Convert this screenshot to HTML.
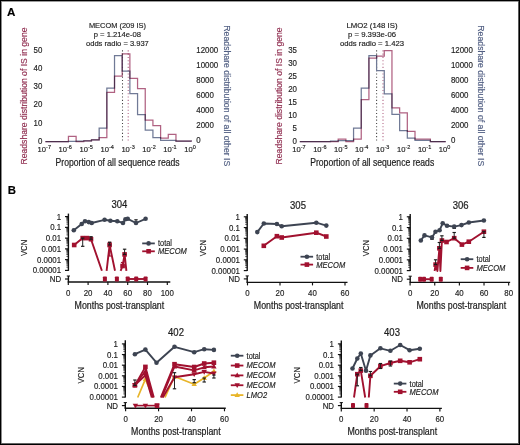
<!DOCTYPE html><html><head><meta charset="utf-8"><style>html,body{margin:0;padding:0;background:#fff;overflow:hidden;}svg{display:block;font-family:"Liberation Sans", sans-serif;will-change:transform;}</style></head><body>
<svg width="520" height="445" viewBox="0 0 520 445">
<rect x="0" y="0" width="520" height="445" fill="#fff"/>
<text x="7.10" y="15.70" font-size="11.60" font-weight="bold" fill="#000" stroke="#000" stroke-width="0.15">A</text>
<text x="7.70" y="193.80" font-size="11.40" font-weight="bold" fill="#000" stroke="#000" stroke-width="0.15">B</text>
<text x="117.40" y="28.40" font-size="7.90" text-anchor="middle" textLength="57.00" lengthAdjust="spacingAndGlyphs" fill="#1e1e1e" stroke="#1e1e1e" stroke-width="0.16">MECOM (209 IS)</text>
<text x="117.40" y="37.35" font-size="7.90" text-anchor="middle" textLength="47.40" lengthAdjust="spacingAndGlyphs" fill="#1e1e1e" stroke="#1e1e1e" stroke-width="0.16">p = 1.214e-08</text>
<text x="117.40" y="46.30" font-size="7.90" text-anchor="middle" textLength="62.80" lengthAdjust="spacingAndGlyphs" fill="#1e1e1e" stroke="#1e1e1e" stroke-width="0.16">odds radio = 3.937</text>
<line x1="122.50" y1="50.3" x2="122.50" y2="141.5" stroke="#444" stroke-width="1.05" stroke-dasharray="1.1 2.2"/>
<line x1="128.20" y1="50.3" x2="128.20" y2="141.5" stroke="#b06282" stroke-width="1.05" stroke-dasharray="1.1 2.2"/>
<path d="M45.40 141.50 L45.40 141.50 L53.08 141.50 L53.08 141.50 L60.76 141.50 L60.76 141.50 L68.44 141.50 L68.44 141.30 L76.12 141.30 L76.12 141.20 L83.80 141.20 L83.80 140.80 L91.48 140.80 L91.48 139.80 L99.16 139.80 L99.16 128.00 L106.84 128.00 L106.84 88.00 L114.52 88.00 L114.52 55.70 L122.20 55.70 L122.20 71.00 L129.88 71.00 L129.88 93.50 L137.56 93.50 L137.56 114.70 L145.24 114.70 L145.24 130.00 L152.92 130.00 L152.92 137.50 L160.60 137.50 L160.60 140.30 L168.28 140.30 L168.28 140.30 L175.96 140.30 L175.96 141.00 L183.64 141.00 L183.64 141.00 L191.32 141.00 L191.32 141.50" fill="none" stroke="#707a96" stroke-width="1.25" stroke-linejoin="miter"/>
<path d="M45.40 141.50 L45.40 141.50 L53.08 141.50 L53.08 141.50 L60.76 141.50 L60.76 141.50 L68.44 141.50 L68.44 136.40 L76.12 136.40 L76.12 141.50 L83.80 141.50 L83.80 140.80 L91.48 140.80 L91.48 139.80 L99.16 139.80 L99.16 137.60 L106.84 137.60 L106.84 92.40 L114.52 92.40 L114.52 76.00 L122.20 76.00 L122.20 53.80 L129.88 53.80 L129.88 78.30 L137.56 78.30 L137.56 88.60 L145.24 88.60 L145.24 120.00 L152.92 120.00 L152.92 125.60 L160.60 125.60 L160.60 138.00 L168.28 138.00 L168.28 134.40 L175.96 134.40 L175.96 141.00 L183.64 141.00 L183.64 141.00 L191.32 141.00 L191.32 141.50" fill="none" stroke="#b06282" stroke-width="1.25" stroke-linejoin="miter" style="mix-blend-mode:multiply"/>
<text transform="translate(42.40,143.95) scale(0.940,1)" x="0" y="0" font-size="8.40" text-anchor="end" fill="#1e1e1e" stroke="#1e1e1e" stroke-width="0.16">0</text>
<text transform="translate(42.40,125.65) scale(0.940,1)" x="0" y="0" font-size="8.40" text-anchor="end" fill="#1e1e1e" stroke="#1e1e1e" stroke-width="0.16">10</text>
<text transform="translate(42.40,107.35) scale(0.940,1)" x="0" y="0" font-size="8.40" text-anchor="end" fill="#1e1e1e" stroke="#1e1e1e" stroke-width="0.16">20</text>
<text transform="translate(42.40,89.05) scale(0.940,1)" x="0" y="0" font-size="8.40" text-anchor="end" fill="#1e1e1e" stroke="#1e1e1e" stroke-width="0.16">30</text>
<text transform="translate(42.40,70.75) scale(0.940,1)" x="0" y="0" font-size="8.40" text-anchor="end" fill="#1e1e1e" stroke="#1e1e1e" stroke-width="0.16">40</text>
<text transform="translate(42.40,52.55) scale(0.940,1)" x="0" y="0" font-size="8.40" text-anchor="end" fill="#1e1e1e" stroke="#1e1e1e" stroke-width="0.16">50</text>
<text transform="translate(196.30,143.05) scale(0.940,1)" x="0" y="0" font-size="8.40" fill="#1e1e1e" stroke="#1e1e1e" stroke-width="0.16">0</text>
<text transform="translate(196.30,128.00) scale(0.940,1)" x="0" y="0" font-size="8.40" fill="#1e1e1e" stroke="#1e1e1e" stroke-width="0.16">2000</text>
<text transform="translate(196.30,112.95) scale(0.940,1)" x="0" y="0" font-size="8.40" fill="#1e1e1e" stroke="#1e1e1e" stroke-width="0.16">4000</text>
<text transform="translate(196.30,97.90) scale(0.940,1)" x="0" y="0" font-size="8.40" fill="#1e1e1e" stroke="#1e1e1e" stroke-width="0.16">6000</text>
<text transform="translate(196.30,82.85) scale(0.940,1)" x="0" y="0" font-size="8.40" fill="#1e1e1e" stroke="#1e1e1e" stroke-width="0.16">8000</text>
<text transform="translate(196.30,67.80) scale(0.940,1)" x="0" y="0" font-size="8.40" fill="#1e1e1e" stroke="#1e1e1e" stroke-width="0.16">10000</text>
<text transform="translate(196.30,52.75) scale(0.940,1)" x="0" y="0" font-size="8.40" fill="#1e1e1e" stroke="#1e1e1e" stroke-width="0.16">12000</text>
<text x="37.60" y="152.3" font-size="7.6" fill="#1e1e1e" stroke="#1e1e1e" stroke-width="0.16">10<tspan dy="-3.1" font-size="5.5">-7</tspan></text>
<text x="58.55" y="152.3" font-size="7.6" fill="#1e1e1e" stroke="#1e1e1e" stroke-width="0.16">10<tspan dy="-3.1" font-size="5.5">-6</tspan></text>
<text x="79.50" y="152.3" font-size="7.6" fill="#1e1e1e" stroke="#1e1e1e" stroke-width="0.16">10<tspan dy="-3.1" font-size="5.5">-5</tspan></text>
<text x="100.45" y="152.3" font-size="7.6" fill="#1e1e1e" stroke="#1e1e1e" stroke-width="0.16">10<tspan dy="-3.1" font-size="5.5">-4</tspan></text>
<text x="121.40" y="152.3" font-size="7.6" fill="#1e1e1e" stroke="#1e1e1e" stroke-width="0.16">10<tspan dy="-3.1" font-size="5.5">-3</tspan></text>
<text x="142.35" y="152.3" font-size="7.6" fill="#1e1e1e" stroke="#1e1e1e" stroke-width="0.16">10<tspan dy="-3.1" font-size="5.5">-2</tspan></text>
<text x="163.30" y="152.3" font-size="7.6" fill="#1e1e1e" stroke="#1e1e1e" stroke-width="0.16">10<tspan dy="-3.1" font-size="5.5">-1</tspan></text>
<text x="184.25" y="152.3" font-size="7.6" fill="#1e1e1e" stroke="#1e1e1e" stroke-width="0.16">10<tspan dy="-3.1" font-size="5.5">0</tspan></text>
<text x="55.60" y="165.50" font-size="10.20" textLength="124.00" lengthAdjust="spacingAndGlyphs" fill="#1e1e1e" stroke="#1e1e1e" stroke-width="0.20">Proportion of all sequence reads</text>
<text x="372.00" y="28.40" font-size="7.90" text-anchor="middle" textLength="51.00" lengthAdjust="spacingAndGlyphs" fill="#1e1e1e" stroke="#1e1e1e" stroke-width="0.16">LMO2 (148 IS)</text>
<text x="372.00" y="37.35" font-size="7.90" text-anchor="middle" textLength="48.00" lengthAdjust="spacingAndGlyphs" fill="#1e1e1e" stroke="#1e1e1e" stroke-width="0.16">p = 9.393e-06</text>
<text x="372.00" y="46.30" font-size="7.90" text-anchor="middle" textLength="64.00" lengthAdjust="spacingAndGlyphs" fill="#1e1e1e" stroke="#1e1e1e" stroke-width="0.16">odds radio = 1.423</text>
<line x1="376.60" y1="50.3" x2="376.60" y2="141.5" stroke="#444" stroke-width="1.05" stroke-dasharray="1.1 2.2"/>
<line x1="383.00" y1="50.3" x2="383.00" y2="141.5" stroke="#b06282" stroke-width="1.05" stroke-dasharray="1.1 2.2"/>
<path d="M299.80 141.50 L299.80 141.50 L307.48 141.50 L307.48 141.50 L315.16 141.50 L315.16 141.50 L322.84 141.50 L322.84 141.50 L330.52 141.50 L330.52 141.20 L338.20 141.20 L338.20 140.50 L345.88 140.50 L345.88 140.50 L353.56 140.50 L353.56 128.20 L361.24 128.20 L361.24 88.00 L368.92 88.00 L368.92 55.50 L376.60 55.50 L376.60 70.70 L384.28 70.70 L384.28 93.90 L391.96 93.90 L391.96 114.40 L399.64 114.40 L399.64 130.60 L407.32 130.60 L407.32 138.00 L415.00 138.00 L415.00 140.30 L422.68 140.30 L422.68 140.30 L430.36 140.30 L430.36 141.50 L438.04 141.50 L438.04 141.50 L445.72 141.50 L445.72 141.50" fill="none" stroke="#707a96" stroke-width="1.25" stroke-linejoin="miter"/>
<path d="M299.80 141.50 L299.80 141.50 L307.48 141.50 L307.48 141.50 L315.16 141.50 L315.16 141.50 L322.84 141.50 L322.84 141.50 L330.52 141.50 L330.52 141.50 L338.20 141.50 L338.20 139.20 L345.88 139.20 L345.88 141.50 L353.56 141.50 L353.56 139.00 L361.24 139.00 L361.24 99.70 L368.92 99.70 L368.92 58.20 L376.60 58.20 L376.60 56.00 L384.28 56.00 L384.28 50.50 L391.96 50.50 L391.96 107.80 L399.64 107.80 L399.64 112.90 L407.32 112.90 L407.32 131.30 L415.00 131.30 L415.00 139.00 L422.68 139.00 L422.68 139.00 L430.36 139.00 L430.36 141.50 L438.04 141.50 L438.04 141.50 L445.72 141.50 L445.72 141.50" fill="none" stroke="#b06282" stroke-width="1.25" stroke-linejoin="miter" style="mix-blend-mode:multiply"/>
<text transform="translate(297.00,143.95) scale(0.940,1)" x="0" y="0" font-size="8.40" text-anchor="end" fill="#1e1e1e" stroke="#1e1e1e" stroke-width="0.16">0</text>
<text transform="translate(297.00,130.95) scale(0.940,1)" x="0" y="0" font-size="8.40" text-anchor="end" fill="#1e1e1e" stroke="#1e1e1e" stroke-width="0.16">5</text>
<text transform="translate(297.00,117.95) scale(0.940,1)" x="0" y="0" font-size="8.40" text-anchor="end" fill="#1e1e1e" stroke="#1e1e1e" stroke-width="0.16">10</text>
<text transform="translate(297.00,104.95) scale(0.940,1)" x="0" y="0" font-size="8.40" text-anchor="end" fill="#1e1e1e" stroke="#1e1e1e" stroke-width="0.16">15</text>
<text transform="translate(297.00,91.95) scale(0.940,1)" x="0" y="0" font-size="8.40" text-anchor="end" fill="#1e1e1e" stroke="#1e1e1e" stroke-width="0.16">20</text>
<text transform="translate(297.00,78.95) scale(0.940,1)" x="0" y="0" font-size="8.40" text-anchor="end" fill="#1e1e1e" stroke="#1e1e1e" stroke-width="0.16">25</text>
<text transform="translate(297.00,65.95) scale(0.940,1)" x="0" y="0" font-size="8.40" text-anchor="end" fill="#1e1e1e" stroke="#1e1e1e" stroke-width="0.16">30</text>
<text transform="translate(297.00,52.95) scale(0.940,1)" x="0" y="0" font-size="8.40" text-anchor="end" fill="#1e1e1e" stroke="#1e1e1e" stroke-width="0.16">35</text>
<text transform="translate(450.90,143.05) scale(0.940,1)" x="0" y="0" font-size="8.40" fill="#1e1e1e" stroke="#1e1e1e" stroke-width="0.16">0</text>
<text transform="translate(450.90,128.00) scale(0.940,1)" x="0" y="0" font-size="8.40" fill="#1e1e1e" stroke="#1e1e1e" stroke-width="0.16">2000</text>
<text transform="translate(450.90,112.95) scale(0.940,1)" x="0" y="0" font-size="8.40" fill="#1e1e1e" stroke="#1e1e1e" stroke-width="0.16">4000</text>
<text transform="translate(450.90,97.90) scale(0.940,1)" x="0" y="0" font-size="8.40" fill="#1e1e1e" stroke="#1e1e1e" stroke-width="0.16">6000</text>
<text transform="translate(450.90,82.85) scale(0.940,1)" x="0" y="0" font-size="8.40" fill="#1e1e1e" stroke="#1e1e1e" stroke-width="0.16">8000</text>
<text transform="translate(450.90,67.80) scale(0.940,1)" x="0" y="0" font-size="8.40" fill="#1e1e1e" stroke="#1e1e1e" stroke-width="0.16">10000</text>
<text transform="translate(450.90,52.75) scale(0.940,1)" x="0" y="0" font-size="8.40" fill="#1e1e1e" stroke="#1e1e1e" stroke-width="0.16">12000</text>
<text x="292.20" y="152.3" font-size="7.6" fill="#1e1e1e" stroke="#1e1e1e" stroke-width="0.16">10<tspan dy="-3.1" font-size="5.5">-7</tspan></text>
<text x="313.15" y="152.3" font-size="7.6" fill="#1e1e1e" stroke="#1e1e1e" stroke-width="0.16">10<tspan dy="-3.1" font-size="5.5">-6</tspan></text>
<text x="334.10" y="152.3" font-size="7.6" fill="#1e1e1e" stroke="#1e1e1e" stroke-width="0.16">10<tspan dy="-3.1" font-size="5.5">-5</tspan></text>
<text x="355.05" y="152.3" font-size="7.6" fill="#1e1e1e" stroke="#1e1e1e" stroke-width="0.16">10<tspan dy="-3.1" font-size="5.5">-4</tspan></text>
<text x="376.00" y="152.3" font-size="7.6" fill="#1e1e1e" stroke="#1e1e1e" stroke-width="0.16">10<tspan dy="-3.1" font-size="5.5">-3</tspan></text>
<text x="396.95" y="152.3" font-size="7.6" fill="#1e1e1e" stroke="#1e1e1e" stroke-width="0.16">10<tspan dy="-3.1" font-size="5.5">-2</tspan></text>
<text x="417.90" y="152.3" font-size="7.6" fill="#1e1e1e" stroke="#1e1e1e" stroke-width="0.16">10<tspan dy="-3.1" font-size="5.5">-1</tspan></text>
<text x="438.85" y="152.3" font-size="7.6" fill="#1e1e1e" stroke="#1e1e1e" stroke-width="0.16">10<tspan dy="-3.1" font-size="5.5">0</tspan></text>
<text x="310.20" y="165.50" font-size="10.20" textLength="124.00" lengthAdjust="spacingAndGlyphs" fill="#1e1e1e" stroke="#1e1e1e" stroke-width="0.20">Proportion of all sequence reads</text>
<text transform="translate(26.90,164.50) rotate(-90)" x="0" y="0" font-size="9.10" textLength="137.00" lengthAdjust="spacingAndGlyphs" fill="#902e50" stroke="#902e50" stroke-width="0.16">Readshare distribution of IS in gene</text>
<text transform="translate(281.90,164.40) rotate(-90)" x="0" y="0" font-size="9.10" textLength="137.00" lengthAdjust="spacingAndGlyphs" fill="#902e50" stroke="#902e50" stroke-width="0.16">Readshare distribution of IS in gene</text>
<text transform="translate(224.20,25.30) rotate(90)" x="0" y="0" font-size="9.10" textLength="141.00" lengthAdjust="spacingAndGlyphs" fill="#505e82" stroke="#505e82" stroke-width="0.16">Readshare distribution of all other IS</text>
<text transform="translate(478.00,25.30) rotate(90)" x="0" y="0" font-size="9.10" textLength="141.00" lengthAdjust="spacingAndGlyphs" fill="#505e82" stroke="#505e82" stroke-width="0.16">Readshare distribution of all other IS</text>
<text x="119.40" y="208.20" font-size="10.60" text-anchor="middle" textLength="15.90" lengthAdjust="spacingAndGlyphs" fill="#1e1e1e" stroke="#1e1e1e" stroke-width="0.22">304</text>
<line x1="68.40" y1="213.60" x2="68.40" y2="270.90" stroke="#111" stroke-width="1.4"/>
<line x1="65.00" y1="216.60" x2="68.40" y2="216.60" stroke="#111" stroke-width="1.15"/>
<text transform="translate(61.10,219.60) scale(0.950,1)" x="0" y="0" font-size="8.30" text-anchor="end" fill="#1e1e1e" stroke="#1e1e1e" stroke-width="0.16">1</text>
<line x1="66.40" y1="224.12" x2="68.40" y2="224.12" stroke="#111" stroke-width="0.7"/>
<line x1="66.40" y1="222.23" x2="68.40" y2="222.23" stroke="#111" stroke-width="0.7"/>
<line x1="66.40" y1="220.88" x2="68.40" y2="220.88" stroke="#111" stroke-width="0.7"/>
<line x1="66.40" y1="219.84" x2="68.40" y2="219.84" stroke="#111" stroke-width="0.7"/>
<line x1="66.40" y1="218.99" x2="68.40" y2="218.99" stroke="#111" stroke-width="0.7"/>
<line x1="66.40" y1="218.27" x2="68.40" y2="218.27" stroke="#111" stroke-width="0.7"/>
<line x1="66.40" y1="217.64" x2="68.40" y2="217.64" stroke="#111" stroke-width="0.7"/>
<line x1="66.40" y1="217.09" x2="68.40" y2="217.09" stroke="#111" stroke-width="0.7"/>
<line x1="65.00" y1="227.36" x2="68.40" y2="227.36" stroke="#111" stroke-width="1.15"/>
<text transform="translate(61.10,230.36) scale(0.950,1)" x="0" y="0" font-size="8.30" text-anchor="end" fill="#1e1e1e" stroke="#1e1e1e" stroke-width="0.16">0.1</text>
<line x1="66.40" y1="234.88" x2="68.40" y2="234.88" stroke="#111" stroke-width="0.7"/>
<line x1="66.40" y1="232.99" x2="68.40" y2="232.99" stroke="#111" stroke-width="0.7"/>
<line x1="66.40" y1="231.64" x2="68.40" y2="231.64" stroke="#111" stroke-width="0.7"/>
<line x1="66.40" y1="230.60" x2="68.40" y2="230.60" stroke="#111" stroke-width="0.7"/>
<line x1="66.40" y1="229.75" x2="68.40" y2="229.75" stroke="#111" stroke-width="0.7"/>
<line x1="66.40" y1="229.03" x2="68.40" y2="229.03" stroke="#111" stroke-width="0.7"/>
<line x1="66.40" y1="228.40" x2="68.40" y2="228.40" stroke="#111" stroke-width="0.7"/>
<line x1="66.40" y1="227.85" x2="68.40" y2="227.85" stroke="#111" stroke-width="0.7"/>
<line x1="65.00" y1="238.12" x2="68.40" y2="238.12" stroke="#111" stroke-width="1.15"/>
<text transform="translate(61.10,241.12) scale(0.950,1)" x="0" y="0" font-size="8.30" text-anchor="end" fill="#1e1e1e" stroke="#1e1e1e" stroke-width="0.16">0.01</text>
<line x1="66.40" y1="245.64" x2="68.40" y2="245.64" stroke="#111" stroke-width="0.7"/>
<line x1="66.40" y1="243.75" x2="68.40" y2="243.75" stroke="#111" stroke-width="0.7"/>
<line x1="66.40" y1="242.40" x2="68.40" y2="242.40" stroke="#111" stroke-width="0.7"/>
<line x1="66.40" y1="241.36" x2="68.40" y2="241.36" stroke="#111" stroke-width="0.7"/>
<line x1="66.40" y1="240.51" x2="68.40" y2="240.51" stroke="#111" stroke-width="0.7"/>
<line x1="66.40" y1="239.79" x2="68.40" y2="239.79" stroke="#111" stroke-width="0.7"/>
<line x1="66.40" y1="239.16" x2="68.40" y2="239.16" stroke="#111" stroke-width="0.7"/>
<line x1="66.40" y1="238.61" x2="68.40" y2="238.61" stroke="#111" stroke-width="0.7"/>
<line x1="65.00" y1="248.88" x2="68.40" y2="248.88" stroke="#111" stroke-width="1.15"/>
<text transform="translate(61.10,251.88) scale(0.950,1)" x="0" y="0" font-size="8.30" text-anchor="end" fill="#1e1e1e" stroke="#1e1e1e" stroke-width="0.16">0.001</text>
<line x1="66.40" y1="256.40" x2="68.40" y2="256.40" stroke="#111" stroke-width="0.7"/>
<line x1="66.40" y1="254.51" x2="68.40" y2="254.51" stroke="#111" stroke-width="0.7"/>
<line x1="66.40" y1="253.16" x2="68.40" y2="253.16" stroke="#111" stroke-width="0.7"/>
<line x1="66.40" y1="252.12" x2="68.40" y2="252.12" stroke="#111" stroke-width="0.7"/>
<line x1="66.40" y1="251.27" x2="68.40" y2="251.27" stroke="#111" stroke-width="0.7"/>
<line x1="66.40" y1="250.55" x2="68.40" y2="250.55" stroke="#111" stroke-width="0.7"/>
<line x1="66.40" y1="249.92" x2="68.40" y2="249.92" stroke="#111" stroke-width="0.7"/>
<line x1="66.40" y1="249.37" x2="68.40" y2="249.37" stroke="#111" stroke-width="0.7"/>
<line x1="65.00" y1="259.64" x2="68.40" y2="259.64" stroke="#111" stroke-width="1.15"/>
<text transform="translate(61.10,262.64) scale(0.950,1)" x="0" y="0" font-size="8.30" text-anchor="end" fill="#1e1e1e" stroke="#1e1e1e" stroke-width="0.16">0.0001</text>
<line x1="66.40" y1="267.16" x2="68.40" y2="267.16" stroke="#111" stroke-width="0.7"/>
<line x1="66.40" y1="265.27" x2="68.40" y2="265.27" stroke="#111" stroke-width="0.7"/>
<line x1="66.40" y1="263.92" x2="68.40" y2="263.92" stroke="#111" stroke-width="0.7"/>
<line x1="66.40" y1="262.88" x2="68.40" y2="262.88" stroke="#111" stroke-width="0.7"/>
<line x1="66.40" y1="262.03" x2="68.40" y2="262.03" stroke="#111" stroke-width="0.7"/>
<line x1="66.40" y1="261.31" x2="68.40" y2="261.31" stroke="#111" stroke-width="0.7"/>
<line x1="66.40" y1="260.68" x2="68.40" y2="260.68" stroke="#111" stroke-width="0.7"/>
<line x1="66.40" y1="260.13" x2="68.40" y2="260.13" stroke="#111" stroke-width="0.7"/>
<line x1="65.00" y1="270.40" x2="68.40" y2="270.40" stroke="#111" stroke-width="1.15"/>
<text transform="translate(61.10,273.40) scale(0.950,1)" x="0" y="0" font-size="8.30" text-anchor="end" fill="#1e1e1e" stroke="#1e1e1e" stroke-width="0.16">0.00001</text>
<line x1="68.40" y1="276.00" x2="68.40" y2="282.00" stroke="#111" stroke-width="1.4"/>
<line x1="65.00" y1="279.00" x2="68.40" y2="279.00" stroke="#111" stroke-width="1.15"/>
<line x1="66.80" y1="276.00" x2="70.00" y2="276.00" stroke="#111" stroke-width="1.0"/>
<text transform="translate(61.10,282.00) scale(0.950,1)" x="0" y="0" font-size="8.30" text-anchor="end" fill="#1e1e1e" stroke="#1e1e1e" stroke-width="0.16">ND</text>
<line x1="67.70" y1="282.00" x2="170.30" y2="282.00" stroke="#111" stroke-width="1.4"/>
<line x1="68.30" y1="282.00" x2="68.30" y2="285.00" stroke="#111" stroke-width="1.15"/>
<text transform="translate(68.30,296.00) scale(0.950,1)" x="0" y="0" font-size="8.30" text-anchor="middle" fill="#1e1e1e" stroke="#1e1e1e" stroke-width="0.16">0</text>
<line x1="88.10" y1="282.00" x2="88.10" y2="285.00" stroke="#111" stroke-width="1.15"/>
<text transform="translate(88.10,296.00) scale(0.950,1)" x="0" y="0" font-size="8.30" text-anchor="middle" fill="#1e1e1e" stroke="#1e1e1e" stroke-width="0.16">20</text>
<line x1="107.90" y1="282.00" x2="107.90" y2="285.00" stroke="#111" stroke-width="1.15"/>
<text transform="translate(107.90,296.00) scale(0.950,1)" x="0" y="0" font-size="8.30" text-anchor="middle" fill="#1e1e1e" stroke="#1e1e1e" stroke-width="0.16">40</text>
<line x1="127.70" y1="282.00" x2="127.70" y2="285.00" stroke="#111" stroke-width="1.15"/>
<text transform="translate(127.70,296.00) scale(0.950,1)" x="0" y="0" font-size="8.30" text-anchor="middle" fill="#1e1e1e" stroke="#1e1e1e" stroke-width="0.16">60</text>
<line x1="147.50" y1="282.00" x2="147.50" y2="285.00" stroke="#111" stroke-width="1.15"/>
<text transform="translate(147.50,296.00) scale(0.950,1)" x="0" y="0" font-size="8.30" text-anchor="middle" fill="#1e1e1e" stroke="#1e1e1e" stroke-width="0.16">80</text>
<line x1="167.30" y1="282.00" x2="167.30" y2="285.00" stroke="#111" stroke-width="1.15"/>
<text transform="translate(167.30,296.00) scale(0.950,1)" x="0" y="0" font-size="8.30" text-anchor="middle" fill="#1e1e1e" stroke="#1e1e1e" stroke-width="0.16">100</text>
<text x="119.40" y="308.70" font-size="10.20" text-anchor="middle" textLength="89.60" lengthAdjust="spacingAndGlyphs" fill="#1e1e1e" stroke="#1e1e1e" stroke-width="0.22">Months post-transplant</text>
<text transform="translate(27.10,247.90) rotate(-90)" x="0" y="0" font-size="8.60" text-anchor="middle" textLength="16.40" lengthAdjust="spacingAndGlyphs" fill="#1e1e1e" stroke="#1e1e1e" stroke-width="0.16">VCN</text>
<text x="298.00" y="208.80" font-size="10.60" text-anchor="middle" textLength="15.90" lengthAdjust="spacingAndGlyphs" fill="#1e1e1e" stroke="#1e1e1e" stroke-width="0.22">305</text>
<line x1="247.20" y1="214.00" x2="247.20" y2="271.10" stroke="#111" stroke-width="1.4"/>
<line x1="243.80" y1="216.80" x2="247.20" y2="216.80" stroke="#111" stroke-width="1.15"/>
<text transform="translate(239.90,219.80) scale(0.950,1)" x="0" y="0" font-size="8.30" text-anchor="end" fill="#1e1e1e" stroke="#1e1e1e" stroke-width="0.16">1</text>
<line x1="245.20" y1="224.32" x2="247.20" y2="224.32" stroke="#111" stroke-width="0.7"/>
<line x1="245.20" y1="222.43" x2="247.20" y2="222.43" stroke="#111" stroke-width="0.7"/>
<line x1="245.20" y1="221.08" x2="247.20" y2="221.08" stroke="#111" stroke-width="0.7"/>
<line x1="245.20" y1="220.04" x2="247.20" y2="220.04" stroke="#111" stroke-width="0.7"/>
<line x1="245.20" y1="219.19" x2="247.20" y2="219.19" stroke="#111" stroke-width="0.7"/>
<line x1="245.20" y1="218.47" x2="247.20" y2="218.47" stroke="#111" stroke-width="0.7"/>
<line x1="245.20" y1="217.84" x2="247.20" y2="217.84" stroke="#111" stroke-width="0.7"/>
<line x1="245.20" y1="217.29" x2="247.20" y2="217.29" stroke="#111" stroke-width="0.7"/>
<line x1="243.80" y1="227.56" x2="247.20" y2="227.56" stroke="#111" stroke-width="1.15"/>
<text transform="translate(239.90,230.56) scale(0.950,1)" x="0" y="0" font-size="8.30" text-anchor="end" fill="#1e1e1e" stroke="#1e1e1e" stroke-width="0.16">0.1</text>
<line x1="245.20" y1="235.08" x2="247.20" y2="235.08" stroke="#111" stroke-width="0.7"/>
<line x1="245.20" y1="233.19" x2="247.20" y2="233.19" stroke="#111" stroke-width="0.7"/>
<line x1="245.20" y1="231.84" x2="247.20" y2="231.84" stroke="#111" stroke-width="0.7"/>
<line x1="245.20" y1="230.80" x2="247.20" y2="230.80" stroke="#111" stroke-width="0.7"/>
<line x1="245.20" y1="229.95" x2="247.20" y2="229.95" stroke="#111" stroke-width="0.7"/>
<line x1="245.20" y1="229.23" x2="247.20" y2="229.23" stroke="#111" stroke-width="0.7"/>
<line x1="245.20" y1="228.60" x2="247.20" y2="228.60" stroke="#111" stroke-width="0.7"/>
<line x1="245.20" y1="228.05" x2="247.20" y2="228.05" stroke="#111" stroke-width="0.7"/>
<line x1="243.80" y1="238.32" x2="247.20" y2="238.32" stroke="#111" stroke-width="1.15"/>
<text transform="translate(239.90,241.32) scale(0.950,1)" x="0" y="0" font-size="8.30" text-anchor="end" fill="#1e1e1e" stroke="#1e1e1e" stroke-width="0.16">0.01</text>
<line x1="245.20" y1="245.84" x2="247.20" y2="245.84" stroke="#111" stroke-width="0.7"/>
<line x1="245.20" y1="243.95" x2="247.20" y2="243.95" stroke="#111" stroke-width="0.7"/>
<line x1="245.20" y1="242.60" x2="247.20" y2="242.60" stroke="#111" stroke-width="0.7"/>
<line x1="245.20" y1="241.56" x2="247.20" y2="241.56" stroke="#111" stroke-width="0.7"/>
<line x1="245.20" y1="240.71" x2="247.20" y2="240.71" stroke="#111" stroke-width="0.7"/>
<line x1="245.20" y1="239.99" x2="247.20" y2="239.99" stroke="#111" stroke-width="0.7"/>
<line x1="245.20" y1="239.36" x2="247.20" y2="239.36" stroke="#111" stroke-width="0.7"/>
<line x1="245.20" y1="238.81" x2="247.20" y2="238.81" stroke="#111" stroke-width="0.7"/>
<line x1="243.80" y1="249.08" x2="247.20" y2="249.08" stroke="#111" stroke-width="1.15"/>
<text transform="translate(239.90,252.08) scale(0.950,1)" x="0" y="0" font-size="8.30" text-anchor="end" fill="#1e1e1e" stroke="#1e1e1e" stroke-width="0.16">0.001</text>
<line x1="245.20" y1="256.60" x2="247.20" y2="256.60" stroke="#111" stroke-width="0.7"/>
<line x1="245.20" y1="254.71" x2="247.20" y2="254.71" stroke="#111" stroke-width="0.7"/>
<line x1="245.20" y1="253.36" x2="247.20" y2="253.36" stroke="#111" stroke-width="0.7"/>
<line x1="245.20" y1="252.32" x2="247.20" y2="252.32" stroke="#111" stroke-width="0.7"/>
<line x1="245.20" y1="251.47" x2="247.20" y2="251.47" stroke="#111" stroke-width="0.7"/>
<line x1="245.20" y1="250.75" x2="247.20" y2="250.75" stroke="#111" stroke-width="0.7"/>
<line x1="245.20" y1="250.12" x2="247.20" y2="250.12" stroke="#111" stroke-width="0.7"/>
<line x1="245.20" y1="249.57" x2="247.20" y2="249.57" stroke="#111" stroke-width="0.7"/>
<line x1="243.80" y1="259.84" x2="247.20" y2="259.84" stroke="#111" stroke-width="1.15"/>
<text transform="translate(239.90,262.84) scale(0.950,1)" x="0" y="0" font-size="8.30" text-anchor="end" fill="#1e1e1e" stroke="#1e1e1e" stroke-width="0.16">0.0001</text>
<line x1="245.20" y1="267.36" x2="247.20" y2="267.36" stroke="#111" stroke-width="0.7"/>
<line x1="245.20" y1="265.47" x2="247.20" y2="265.47" stroke="#111" stroke-width="0.7"/>
<line x1="245.20" y1="264.12" x2="247.20" y2="264.12" stroke="#111" stroke-width="0.7"/>
<line x1="245.20" y1="263.08" x2="247.20" y2="263.08" stroke="#111" stroke-width="0.7"/>
<line x1="245.20" y1="262.23" x2="247.20" y2="262.23" stroke="#111" stroke-width="0.7"/>
<line x1="245.20" y1="261.51" x2="247.20" y2="261.51" stroke="#111" stroke-width="0.7"/>
<line x1="245.20" y1="260.88" x2="247.20" y2="260.88" stroke="#111" stroke-width="0.7"/>
<line x1="245.20" y1="260.33" x2="247.20" y2="260.33" stroke="#111" stroke-width="0.7"/>
<line x1="243.80" y1="270.60" x2="247.20" y2="270.60" stroke="#111" stroke-width="1.15"/>
<text transform="translate(239.90,273.60) scale(0.950,1)" x="0" y="0" font-size="8.30" text-anchor="end" fill="#1e1e1e" stroke="#1e1e1e" stroke-width="0.16">0.00001</text>
<line x1="247.20" y1="275.90" x2="247.20" y2="282.40" stroke="#111" stroke-width="1.4"/>
<line x1="243.80" y1="278.90" x2="247.20" y2="278.90" stroke="#111" stroke-width="1.15"/>
<line x1="245.60" y1="275.90" x2="248.80" y2="275.90" stroke="#111" stroke-width="1.0"/>
<text transform="translate(239.90,281.90) scale(0.950,1)" x="0" y="0" font-size="8.30" text-anchor="end" fill="#1e1e1e" stroke="#1e1e1e" stroke-width="0.16">ND</text>
<line x1="246.50" y1="282.40" x2="347.50" y2="282.40" stroke="#111" stroke-width="1.4"/>
<line x1="247.50" y1="282.40" x2="247.50" y2="285.40" stroke="#111" stroke-width="1.15"/>
<text transform="translate(247.50,296.40) scale(0.950,1)" x="0" y="0" font-size="8.30" text-anchor="middle" fill="#1e1e1e" stroke="#1e1e1e" stroke-width="0.16">0</text>
<line x1="280.00" y1="282.40" x2="280.00" y2="285.40" stroke="#111" stroke-width="1.15"/>
<text transform="translate(280.00,296.40) scale(0.950,1)" x="0" y="0" font-size="8.30" text-anchor="middle" fill="#1e1e1e" stroke="#1e1e1e" stroke-width="0.16">20</text>
<line x1="312.50" y1="282.40" x2="312.50" y2="285.40" stroke="#111" stroke-width="1.15"/>
<text transform="translate(312.50,296.40) scale(0.950,1)" x="0" y="0" font-size="8.30" text-anchor="middle" fill="#1e1e1e" stroke="#1e1e1e" stroke-width="0.16">40</text>
<line x1="345.00" y1="282.40" x2="345.00" y2="285.40" stroke="#111" stroke-width="1.15"/>
<text transform="translate(345.00,296.40) scale(0.950,1)" x="0" y="0" font-size="8.30" text-anchor="middle" fill="#1e1e1e" stroke="#1e1e1e" stroke-width="0.16">60</text>
<text x="298.60" y="309.10" font-size="10.20" text-anchor="middle" textLength="89.60" lengthAdjust="spacingAndGlyphs" fill="#1e1e1e" stroke="#1e1e1e" stroke-width="0.22">Months post-transplant</text>
<text transform="translate(205.90,248.10) rotate(-90)" x="0" y="0" font-size="8.60" text-anchor="middle" textLength="16.40" lengthAdjust="spacingAndGlyphs" fill="#1e1e1e" stroke="#1e1e1e" stroke-width="0.16">VCN</text>
<text x="460.60" y="208.80" font-size="10.60" text-anchor="middle" textLength="15.90" lengthAdjust="spacingAndGlyphs" fill="#1e1e1e" stroke="#1e1e1e" stroke-width="0.22">306</text>
<line x1="410.20" y1="214.00" x2="410.20" y2="271.10" stroke="#111" stroke-width="1.4"/>
<line x1="406.80" y1="216.80" x2="410.20" y2="216.80" stroke="#111" stroke-width="1.15"/>
<text transform="translate(402.90,219.80) scale(0.950,1)" x="0" y="0" font-size="8.30" text-anchor="end" fill="#1e1e1e" stroke="#1e1e1e" stroke-width="0.16">1</text>
<line x1="408.20" y1="224.32" x2="410.20" y2="224.32" stroke="#111" stroke-width="0.7"/>
<line x1="408.20" y1="222.43" x2="410.20" y2="222.43" stroke="#111" stroke-width="0.7"/>
<line x1="408.20" y1="221.08" x2="410.20" y2="221.08" stroke="#111" stroke-width="0.7"/>
<line x1="408.20" y1="220.04" x2="410.20" y2="220.04" stroke="#111" stroke-width="0.7"/>
<line x1="408.20" y1="219.19" x2="410.20" y2="219.19" stroke="#111" stroke-width="0.7"/>
<line x1="408.20" y1="218.47" x2="410.20" y2="218.47" stroke="#111" stroke-width="0.7"/>
<line x1="408.20" y1="217.84" x2="410.20" y2="217.84" stroke="#111" stroke-width="0.7"/>
<line x1="408.20" y1="217.29" x2="410.20" y2="217.29" stroke="#111" stroke-width="0.7"/>
<line x1="406.80" y1="227.56" x2="410.20" y2="227.56" stroke="#111" stroke-width="1.15"/>
<text transform="translate(402.90,230.56) scale(0.950,1)" x="0" y="0" font-size="8.30" text-anchor="end" fill="#1e1e1e" stroke="#1e1e1e" stroke-width="0.16">0.1</text>
<line x1="408.20" y1="235.08" x2="410.20" y2="235.08" stroke="#111" stroke-width="0.7"/>
<line x1="408.20" y1="233.19" x2="410.20" y2="233.19" stroke="#111" stroke-width="0.7"/>
<line x1="408.20" y1="231.84" x2="410.20" y2="231.84" stroke="#111" stroke-width="0.7"/>
<line x1="408.20" y1="230.80" x2="410.20" y2="230.80" stroke="#111" stroke-width="0.7"/>
<line x1="408.20" y1="229.95" x2="410.20" y2="229.95" stroke="#111" stroke-width="0.7"/>
<line x1="408.20" y1="229.23" x2="410.20" y2="229.23" stroke="#111" stroke-width="0.7"/>
<line x1="408.20" y1="228.60" x2="410.20" y2="228.60" stroke="#111" stroke-width="0.7"/>
<line x1="408.20" y1="228.05" x2="410.20" y2="228.05" stroke="#111" stroke-width="0.7"/>
<line x1="406.80" y1="238.32" x2="410.20" y2="238.32" stroke="#111" stroke-width="1.15"/>
<text transform="translate(402.90,241.32) scale(0.950,1)" x="0" y="0" font-size="8.30" text-anchor="end" fill="#1e1e1e" stroke="#1e1e1e" stroke-width="0.16">0.01</text>
<line x1="408.20" y1="245.84" x2="410.20" y2="245.84" stroke="#111" stroke-width="0.7"/>
<line x1="408.20" y1="243.95" x2="410.20" y2="243.95" stroke="#111" stroke-width="0.7"/>
<line x1="408.20" y1="242.60" x2="410.20" y2="242.60" stroke="#111" stroke-width="0.7"/>
<line x1="408.20" y1="241.56" x2="410.20" y2="241.56" stroke="#111" stroke-width="0.7"/>
<line x1="408.20" y1="240.71" x2="410.20" y2="240.71" stroke="#111" stroke-width="0.7"/>
<line x1="408.20" y1="239.99" x2="410.20" y2="239.99" stroke="#111" stroke-width="0.7"/>
<line x1="408.20" y1="239.36" x2="410.20" y2="239.36" stroke="#111" stroke-width="0.7"/>
<line x1="408.20" y1="238.81" x2="410.20" y2="238.81" stroke="#111" stroke-width="0.7"/>
<line x1="406.80" y1="249.08" x2="410.20" y2="249.08" stroke="#111" stroke-width="1.15"/>
<text transform="translate(402.90,252.08) scale(0.950,1)" x="0" y="0" font-size="8.30" text-anchor="end" fill="#1e1e1e" stroke="#1e1e1e" stroke-width="0.16">0.001</text>
<line x1="408.20" y1="256.60" x2="410.20" y2="256.60" stroke="#111" stroke-width="0.7"/>
<line x1="408.20" y1="254.71" x2="410.20" y2="254.71" stroke="#111" stroke-width="0.7"/>
<line x1="408.20" y1="253.36" x2="410.20" y2="253.36" stroke="#111" stroke-width="0.7"/>
<line x1="408.20" y1="252.32" x2="410.20" y2="252.32" stroke="#111" stroke-width="0.7"/>
<line x1="408.20" y1="251.47" x2="410.20" y2="251.47" stroke="#111" stroke-width="0.7"/>
<line x1="408.20" y1="250.75" x2="410.20" y2="250.75" stroke="#111" stroke-width="0.7"/>
<line x1="408.20" y1="250.12" x2="410.20" y2="250.12" stroke="#111" stroke-width="0.7"/>
<line x1="408.20" y1="249.57" x2="410.20" y2="249.57" stroke="#111" stroke-width="0.7"/>
<line x1="406.80" y1="259.84" x2="410.20" y2="259.84" stroke="#111" stroke-width="1.15"/>
<text transform="translate(402.90,262.84) scale(0.950,1)" x="0" y="0" font-size="8.30" text-anchor="end" fill="#1e1e1e" stroke="#1e1e1e" stroke-width="0.16">0.0001</text>
<line x1="408.20" y1="267.36" x2="410.20" y2="267.36" stroke="#111" stroke-width="0.7"/>
<line x1="408.20" y1="265.47" x2="410.20" y2="265.47" stroke="#111" stroke-width="0.7"/>
<line x1="408.20" y1="264.12" x2="410.20" y2="264.12" stroke="#111" stroke-width="0.7"/>
<line x1="408.20" y1="263.08" x2="410.20" y2="263.08" stroke="#111" stroke-width="0.7"/>
<line x1="408.20" y1="262.23" x2="410.20" y2="262.23" stroke="#111" stroke-width="0.7"/>
<line x1="408.20" y1="261.51" x2="410.20" y2="261.51" stroke="#111" stroke-width="0.7"/>
<line x1="408.20" y1="260.88" x2="410.20" y2="260.88" stroke="#111" stroke-width="0.7"/>
<line x1="408.20" y1="260.33" x2="410.20" y2="260.33" stroke="#111" stroke-width="0.7"/>
<line x1="406.80" y1="270.60" x2="410.20" y2="270.60" stroke="#111" stroke-width="1.15"/>
<text transform="translate(402.90,273.60) scale(0.950,1)" x="0" y="0" font-size="8.30" text-anchor="end" fill="#1e1e1e" stroke="#1e1e1e" stroke-width="0.16">0.00001</text>
<line x1="410.20" y1="276.20" x2="410.20" y2="282.40" stroke="#111" stroke-width="1.4"/>
<line x1="406.80" y1="279.20" x2="410.20" y2="279.20" stroke="#111" stroke-width="1.15"/>
<line x1="408.60" y1="276.20" x2="411.80" y2="276.20" stroke="#111" stroke-width="1.0"/>
<text transform="translate(402.90,282.20) scale(0.950,1)" x="0" y="0" font-size="8.30" text-anchor="end" fill="#1e1e1e" stroke="#1e1e1e" stroke-width="0.16">ND</text>
<line x1="409.50" y1="282.40" x2="510.16" y2="282.40" stroke="#111" stroke-width="1.4"/>
<line x1="410.10" y1="282.40" x2="410.10" y2="285.40" stroke="#111" stroke-width="1.15"/>
<text transform="translate(410.10,296.40) scale(0.950,1)" x="0" y="0" font-size="8.30" text-anchor="middle" fill="#1e1e1e" stroke="#1e1e1e" stroke-width="0.16">0</text>
<line x1="434.74" y1="282.40" x2="434.74" y2="285.40" stroke="#111" stroke-width="1.15"/>
<text transform="translate(434.74,296.40) scale(0.950,1)" x="0" y="0" font-size="8.30" text-anchor="middle" fill="#1e1e1e" stroke="#1e1e1e" stroke-width="0.16">20</text>
<line x1="459.38" y1="282.40" x2="459.38" y2="285.40" stroke="#111" stroke-width="1.15"/>
<text transform="translate(459.38,296.40) scale(0.950,1)" x="0" y="0" font-size="8.30" text-anchor="middle" fill="#1e1e1e" stroke="#1e1e1e" stroke-width="0.16">40</text>
<line x1="484.02" y1="282.40" x2="484.02" y2="285.40" stroke="#111" stroke-width="1.15"/>
<text transform="translate(484.02,296.40) scale(0.950,1)" x="0" y="0" font-size="8.30" text-anchor="middle" fill="#1e1e1e" stroke="#1e1e1e" stroke-width="0.16">60</text>
<line x1="508.66" y1="282.40" x2="508.66" y2="285.40" stroke="#111" stroke-width="1.15"/>
<text transform="translate(508.66,296.40) scale(0.950,1)" x="0" y="0" font-size="8.30" text-anchor="middle" fill="#1e1e1e" stroke="#1e1e1e" stroke-width="0.16">80</text>
<text x="461.30" y="309.10" font-size="10.20" text-anchor="middle" textLength="89.60" lengthAdjust="spacingAndGlyphs" fill="#1e1e1e" stroke="#1e1e1e" stroke-width="0.22">Months post-transplant</text>
<text transform="translate(368.90,248.10) rotate(-90)" x="0" y="0" font-size="8.60" text-anchor="middle" textLength="16.40" lengthAdjust="spacingAndGlyphs" fill="#1e1e1e" stroke="#1e1e1e" stroke-width="0.16">VCN</text>
<text x="176.00" y="335.80" font-size="10.60" text-anchor="middle" textLength="15.90" lengthAdjust="spacingAndGlyphs" fill="#1e1e1e" stroke="#1e1e1e" stroke-width="0.22">402</text>
<line x1="125.30" y1="340.30" x2="125.30" y2="397.60" stroke="#111" stroke-width="1.4"/>
<line x1="121.90" y1="343.90" x2="125.30" y2="343.90" stroke="#111" stroke-width="1.15"/>
<text transform="translate(118.00,346.90) scale(0.950,1)" x="0" y="0" font-size="8.30" text-anchor="end" fill="#1e1e1e" stroke="#1e1e1e" stroke-width="0.16">1</text>
<line x1="123.30" y1="351.34" x2="125.30" y2="351.34" stroke="#111" stroke-width="0.7"/>
<line x1="123.30" y1="349.46" x2="125.30" y2="349.46" stroke="#111" stroke-width="0.7"/>
<line x1="123.30" y1="348.13" x2="125.30" y2="348.13" stroke="#111" stroke-width="0.7"/>
<line x1="123.30" y1="347.10" x2="125.30" y2="347.10" stroke="#111" stroke-width="0.7"/>
<line x1="123.30" y1="346.26" x2="125.30" y2="346.26" stroke="#111" stroke-width="0.7"/>
<line x1="123.30" y1="345.55" x2="125.30" y2="345.55" stroke="#111" stroke-width="0.7"/>
<line x1="123.30" y1="344.93" x2="125.30" y2="344.93" stroke="#111" stroke-width="0.7"/>
<line x1="123.30" y1="344.39" x2="125.30" y2="344.39" stroke="#111" stroke-width="0.7"/>
<line x1="121.90" y1="354.54" x2="125.30" y2="354.54" stroke="#111" stroke-width="1.15"/>
<text transform="translate(118.00,357.54) scale(0.950,1)" x="0" y="0" font-size="8.30" text-anchor="end" fill="#1e1e1e" stroke="#1e1e1e" stroke-width="0.16">0.1</text>
<line x1="123.30" y1="361.98" x2="125.30" y2="361.98" stroke="#111" stroke-width="0.7"/>
<line x1="123.30" y1="360.10" x2="125.30" y2="360.10" stroke="#111" stroke-width="0.7"/>
<line x1="123.30" y1="358.77" x2="125.30" y2="358.77" stroke="#111" stroke-width="0.7"/>
<line x1="123.30" y1="357.74" x2="125.30" y2="357.74" stroke="#111" stroke-width="0.7"/>
<line x1="123.30" y1="356.90" x2="125.30" y2="356.90" stroke="#111" stroke-width="0.7"/>
<line x1="123.30" y1="356.19" x2="125.30" y2="356.19" stroke="#111" stroke-width="0.7"/>
<line x1="123.30" y1="355.57" x2="125.30" y2="355.57" stroke="#111" stroke-width="0.7"/>
<line x1="123.30" y1="355.03" x2="125.30" y2="355.03" stroke="#111" stroke-width="0.7"/>
<line x1="121.90" y1="365.18" x2="125.30" y2="365.18" stroke="#111" stroke-width="1.15"/>
<text transform="translate(118.00,368.18) scale(0.950,1)" x="0" y="0" font-size="8.30" text-anchor="end" fill="#1e1e1e" stroke="#1e1e1e" stroke-width="0.16">0.01</text>
<line x1="123.30" y1="372.62" x2="125.30" y2="372.62" stroke="#111" stroke-width="0.7"/>
<line x1="123.30" y1="370.74" x2="125.30" y2="370.74" stroke="#111" stroke-width="0.7"/>
<line x1="123.30" y1="369.41" x2="125.30" y2="369.41" stroke="#111" stroke-width="0.7"/>
<line x1="123.30" y1="368.38" x2="125.30" y2="368.38" stroke="#111" stroke-width="0.7"/>
<line x1="123.30" y1="367.54" x2="125.30" y2="367.54" stroke="#111" stroke-width="0.7"/>
<line x1="123.30" y1="366.83" x2="125.30" y2="366.83" stroke="#111" stroke-width="0.7"/>
<line x1="123.30" y1="366.21" x2="125.30" y2="366.21" stroke="#111" stroke-width="0.7"/>
<line x1="123.30" y1="365.67" x2="125.30" y2="365.67" stroke="#111" stroke-width="0.7"/>
<line x1="121.90" y1="375.82" x2="125.30" y2="375.82" stroke="#111" stroke-width="1.15"/>
<text transform="translate(118.00,378.82) scale(0.950,1)" x="0" y="0" font-size="8.30" text-anchor="end" fill="#1e1e1e" stroke="#1e1e1e" stroke-width="0.16">0.001</text>
<line x1="123.30" y1="383.26" x2="125.30" y2="383.26" stroke="#111" stroke-width="0.7"/>
<line x1="123.30" y1="381.38" x2="125.30" y2="381.38" stroke="#111" stroke-width="0.7"/>
<line x1="123.30" y1="380.05" x2="125.30" y2="380.05" stroke="#111" stroke-width="0.7"/>
<line x1="123.30" y1="379.02" x2="125.30" y2="379.02" stroke="#111" stroke-width="0.7"/>
<line x1="123.30" y1="378.18" x2="125.30" y2="378.18" stroke="#111" stroke-width="0.7"/>
<line x1="123.30" y1="377.47" x2="125.30" y2="377.47" stroke="#111" stroke-width="0.7"/>
<line x1="123.30" y1="376.85" x2="125.30" y2="376.85" stroke="#111" stroke-width="0.7"/>
<line x1="123.30" y1="376.31" x2="125.30" y2="376.31" stroke="#111" stroke-width="0.7"/>
<line x1="121.90" y1="386.46" x2="125.30" y2="386.46" stroke="#111" stroke-width="1.15"/>
<text transform="translate(118.00,389.46) scale(0.950,1)" x="0" y="0" font-size="8.30" text-anchor="end" fill="#1e1e1e" stroke="#1e1e1e" stroke-width="0.16">0.0001</text>
<line x1="123.30" y1="393.90" x2="125.30" y2="393.90" stroke="#111" stroke-width="0.7"/>
<line x1="123.30" y1="392.02" x2="125.30" y2="392.02" stroke="#111" stroke-width="0.7"/>
<line x1="123.30" y1="390.69" x2="125.30" y2="390.69" stroke="#111" stroke-width="0.7"/>
<line x1="123.30" y1="389.66" x2="125.30" y2="389.66" stroke="#111" stroke-width="0.7"/>
<line x1="123.30" y1="388.82" x2="125.30" y2="388.82" stroke="#111" stroke-width="0.7"/>
<line x1="123.30" y1="388.11" x2="125.30" y2="388.11" stroke="#111" stroke-width="0.7"/>
<line x1="123.30" y1="387.49" x2="125.30" y2="387.49" stroke="#111" stroke-width="0.7"/>
<line x1="123.30" y1="386.95" x2="125.30" y2="386.95" stroke="#111" stroke-width="0.7"/>
<line x1="121.90" y1="397.10" x2="125.30" y2="397.10" stroke="#111" stroke-width="1.15"/>
<text transform="translate(118.00,400.10) scale(0.950,1)" x="0" y="0" font-size="8.30" text-anchor="end" fill="#1e1e1e" stroke="#1e1e1e" stroke-width="0.16">0.00001</text>
<line x1="125.30" y1="402.60" x2="125.30" y2="408.30" stroke="#111" stroke-width="1.4"/>
<line x1="121.90" y1="405.60" x2="125.30" y2="405.60" stroke="#111" stroke-width="1.15"/>
<line x1="123.70" y1="402.60" x2="126.90" y2="402.60" stroke="#111" stroke-width="1.0"/>
<text transform="translate(118.00,408.60) scale(0.950,1)" x="0" y="0" font-size="8.30" text-anchor="end" fill="#1e1e1e" stroke="#1e1e1e" stroke-width="0.16">ND</text>
<line x1="124.60" y1="408.30" x2="225.78" y2="408.30" stroke="#111" stroke-width="1.4"/>
<line x1="125.60" y1="408.30" x2="125.60" y2="411.30" stroke="#111" stroke-width="1.15"/>
<text transform="translate(125.60,422.30) scale(0.950,1)" x="0" y="0" font-size="8.30" text-anchor="middle" fill="#1e1e1e" stroke="#1e1e1e" stroke-width="0.16">0</text>
<line x1="158.56" y1="408.30" x2="158.56" y2="411.30" stroke="#111" stroke-width="1.15"/>
<text transform="translate(158.56,422.30) scale(0.950,1)" x="0" y="0" font-size="8.30" text-anchor="middle" fill="#1e1e1e" stroke="#1e1e1e" stroke-width="0.16">20</text>
<line x1="191.52" y1="408.30" x2="191.52" y2="411.30" stroke="#111" stroke-width="1.15"/>
<text transform="translate(191.52,422.30) scale(0.950,1)" x="0" y="0" font-size="8.30" text-anchor="middle" fill="#1e1e1e" stroke="#1e1e1e" stroke-width="0.16">40</text>
<line x1="224.48" y1="408.30" x2="224.48" y2="411.30" stroke="#111" stroke-width="1.15"/>
<text transform="translate(224.48,422.30) scale(0.950,1)" x="0" y="0" font-size="8.30" text-anchor="middle" fill="#1e1e1e" stroke="#1e1e1e" stroke-width="0.16">60</text>
<text x="175.90" y="435.00" font-size="10.20" text-anchor="middle" textLength="89.60" lengthAdjust="spacingAndGlyphs" fill="#1e1e1e" stroke="#1e1e1e" stroke-width="0.22">Months post-transplant</text>
<text transform="translate(84.00,375.20) rotate(-90)" x="0" y="0" font-size="8.60" text-anchor="middle" textLength="16.40" lengthAdjust="spacingAndGlyphs" fill="#1e1e1e" stroke="#1e1e1e" stroke-width="0.16">VCN</text>
<text x="392.00" y="336.00" font-size="10.60" text-anchor="middle" textLength="15.90" lengthAdjust="spacingAndGlyphs" fill="#1e1e1e" stroke="#1e1e1e" stroke-width="0.22">403</text>
<line x1="341.30" y1="340.50" x2="341.30" y2="397.60" stroke="#111" stroke-width="1.4"/>
<line x1="337.90" y1="343.90" x2="341.30" y2="343.90" stroke="#111" stroke-width="1.15"/>
<text transform="translate(334.00,346.90) scale(0.950,1)" x="0" y="0" font-size="8.30" text-anchor="end" fill="#1e1e1e" stroke="#1e1e1e" stroke-width="0.16">1</text>
<line x1="339.30" y1="351.34" x2="341.30" y2="351.34" stroke="#111" stroke-width="0.7"/>
<line x1="339.30" y1="349.46" x2="341.30" y2="349.46" stroke="#111" stroke-width="0.7"/>
<line x1="339.30" y1="348.13" x2="341.30" y2="348.13" stroke="#111" stroke-width="0.7"/>
<line x1="339.30" y1="347.10" x2="341.30" y2="347.10" stroke="#111" stroke-width="0.7"/>
<line x1="339.30" y1="346.26" x2="341.30" y2="346.26" stroke="#111" stroke-width="0.7"/>
<line x1="339.30" y1="345.55" x2="341.30" y2="345.55" stroke="#111" stroke-width="0.7"/>
<line x1="339.30" y1="344.93" x2="341.30" y2="344.93" stroke="#111" stroke-width="0.7"/>
<line x1="339.30" y1="344.39" x2="341.30" y2="344.39" stroke="#111" stroke-width="0.7"/>
<line x1="337.90" y1="354.54" x2="341.30" y2="354.54" stroke="#111" stroke-width="1.15"/>
<text transform="translate(334.00,357.54) scale(0.950,1)" x="0" y="0" font-size="8.30" text-anchor="end" fill="#1e1e1e" stroke="#1e1e1e" stroke-width="0.16">0.1</text>
<line x1="339.30" y1="361.98" x2="341.30" y2="361.98" stroke="#111" stroke-width="0.7"/>
<line x1="339.30" y1="360.10" x2="341.30" y2="360.10" stroke="#111" stroke-width="0.7"/>
<line x1="339.30" y1="358.77" x2="341.30" y2="358.77" stroke="#111" stroke-width="0.7"/>
<line x1="339.30" y1="357.74" x2="341.30" y2="357.74" stroke="#111" stroke-width="0.7"/>
<line x1="339.30" y1="356.90" x2="341.30" y2="356.90" stroke="#111" stroke-width="0.7"/>
<line x1="339.30" y1="356.19" x2="341.30" y2="356.19" stroke="#111" stroke-width="0.7"/>
<line x1="339.30" y1="355.57" x2="341.30" y2="355.57" stroke="#111" stroke-width="0.7"/>
<line x1="339.30" y1="355.03" x2="341.30" y2="355.03" stroke="#111" stroke-width="0.7"/>
<line x1="337.90" y1="365.18" x2="341.30" y2="365.18" stroke="#111" stroke-width="1.15"/>
<text transform="translate(334.00,368.18) scale(0.950,1)" x="0" y="0" font-size="8.30" text-anchor="end" fill="#1e1e1e" stroke="#1e1e1e" stroke-width="0.16">0.01</text>
<line x1="339.30" y1="372.62" x2="341.30" y2="372.62" stroke="#111" stroke-width="0.7"/>
<line x1="339.30" y1="370.74" x2="341.30" y2="370.74" stroke="#111" stroke-width="0.7"/>
<line x1="339.30" y1="369.41" x2="341.30" y2="369.41" stroke="#111" stroke-width="0.7"/>
<line x1="339.30" y1="368.38" x2="341.30" y2="368.38" stroke="#111" stroke-width="0.7"/>
<line x1="339.30" y1="367.54" x2="341.30" y2="367.54" stroke="#111" stroke-width="0.7"/>
<line x1="339.30" y1="366.83" x2="341.30" y2="366.83" stroke="#111" stroke-width="0.7"/>
<line x1="339.30" y1="366.21" x2="341.30" y2="366.21" stroke="#111" stroke-width="0.7"/>
<line x1="339.30" y1="365.67" x2="341.30" y2="365.67" stroke="#111" stroke-width="0.7"/>
<line x1="337.90" y1="375.82" x2="341.30" y2="375.82" stroke="#111" stroke-width="1.15"/>
<text transform="translate(334.00,378.82) scale(0.950,1)" x="0" y="0" font-size="8.30" text-anchor="end" fill="#1e1e1e" stroke="#1e1e1e" stroke-width="0.16">0.001</text>
<line x1="339.30" y1="383.26" x2="341.30" y2="383.26" stroke="#111" stroke-width="0.7"/>
<line x1="339.30" y1="381.38" x2="341.30" y2="381.38" stroke="#111" stroke-width="0.7"/>
<line x1="339.30" y1="380.05" x2="341.30" y2="380.05" stroke="#111" stroke-width="0.7"/>
<line x1="339.30" y1="379.02" x2="341.30" y2="379.02" stroke="#111" stroke-width="0.7"/>
<line x1="339.30" y1="378.18" x2="341.30" y2="378.18" stroke="#111" stroke-width="0.7"/>
<line x1="339.30" y1="377.47" x2="341.30" y2="377.47" stroke="#111" stroke-width="0.7"/>
<line x1="339.30" y1="376.85" x2="341.30" y2="376.85" stroke="#111" stroke-width="0.7"/>
<line x1="339.30" y1="376.31" x2="341.30" y2="376.31" stroke="#111" stroke-width="0.7"/>
<line x1="337.90" y1="386.46" x2="341.30" y2="386.46" stroke="#111" stroke-width="1.15"/>
<text transform="translate(334.00,389.46) scale(0.950,1)" x="0" y="0" font-size="8.30" text-anchor="end" fill="#1e1e1e" stroke="#1e1e1e" stroke-width="0.16">0.0001</text>
<line x1="339.30" y1="393.90" x2="341.30" y2="393.90" stroke="#111" stroke-width="0.7"/>
<line x1="339.30" y1="392.02" x2="341.30" y2="392.02" stroke="#111" stroke-width="0.7"/>
<line x1="339.30" y1="390.69" x2="341.30" y2="390.69" stroke="#111" stroke-width="0.7"/>
<line x1="339.30" y1="389.66" x2="341.30" y2="389.66" stroke="#111" stroke-width="0.7"/>
<line x1="339.30" y1="388.82" x2="341.30" y2="388.82" stroke="#111" stroke-width="0.7"/>
<line x1="339.30" y1="388.11" x2="341.30" y2="388.11" stroke="#111" stroke-width="0.7"/>
<line x1="339.30" y1="387.49" x2="341.30" y2="387.49" stroke="#111" stroke-width="0.7"/>
<line x1="339.30" y1="386.95" x2="341.30" y2="386.95" stroke="#111" stroke-width="0.7"/>
<line x1="337.90" y1="397.10" x2="341.30" y2="397.10" stroke="#111" stroke-width="1.15"/>
<text transform="translate(334.00,400.10) scale(0.950,1)" x="0" y="0" font-size="8.30" text-anchor="end" fill="#1e1e1e" stroke="#1e1e1e" stroke-width="0.16">0.00001</text>
<line x1="341.30" y1="402.60" x2="341.30" y2="408.40" stroke="#111" stroke-width="1.4"/>
<line x1="337.90" y1="405.60" x2="341.30" y2="405.60" stroke="#111" stroke-width="1.15"/>
<line x1="339.70" y1="402.60" x2="342.90" y2="402.60" stroke="#111" stroke-width="1.0"/>
<text transform="translate(334.00,408.60) scale(0.950,1)" x="0" y="0" font-size="8.30" text-anchor="end" fill="#1e1e1e" stroke="#1e1e1e" stroke-width="0.16">ND</text>
<line x1="340.60" y1="408.40" x2="441.88" y2="408.40" stroke="#111" stroke-width="1.4"/>
<line x1="341.30" y1="408.40" x2="341.30" y2="411.40" stroke="#111" stroke-width="1.15"/>
<text transform="translate(341.30,422.40) scale(0.950,1)" x="0" y="0" font-size="8.30" text-anchor="middle" fill="#1e1e1e" stroke="#1e1e1e" stroke-width="0.16">0</text>
<line x1="374.16" y1="408.40" x2="374.16" y2="411.40" stroke="#111" stroke-width="1.15"/>
<text transform="translate(374.16,422.40) scale(0.950,1)" x="0" y="0" font-size="8.30" text-anchor="middle" fill="#1e1e1e" stroke="#1e1e1e" stroke-width="0.16">20</text>
<line x1="407.02" y1="408.40" x2="407.02" y2="411.40" stroke="#111" stroke-width="1.15"/>
<text transform="translate(407.02,422.40) scale(0.950,1)" x="0" y="0" font-size="8.30" text-anchor="middle" fill="#1e1e1e" stroke="#1e1e1e" stroke-width="0.16">40</text>
<line x1="439.88" y1="408.40" x2="439.88" y2="411.40" stroke="#111" stroke-width="1.15"/>
<text transform="translate(439.88,422.40) scale(0.950,1)" x="0" y="0" font-size="8.30" text-anchor="middle" fill="#1e1e1e" stroke="#1e1e1e" stroke-width="0.16">60</text>
<text x="392.30" y="435.10" font-size="10.20" text-anchor="middle" textLength="89.60" lengthAdjust="spacingAndGlyphs" fill="#1e1e1e" stroke="#1e1e1e" stroke-width="0.22">Months post-transplant</text>
<text transform="translate(300.00,375.20) rotate(-90)" x="0" y="0" font-size="8.60" text-anchor="middle" textLength="16.40" lengthAdjust="spacingAndGlyphs" fill="#1e1e1e" stroke="#1e1e1e" stroke-width="0.16">VCN</text>
<line x1="136.00" y1="219.80" x2="136.00" y2="223.50" stroke="#1a1a1a" stroke-width="0.95"/><line x1="134.30" y1="219.80" x2="137.70" y2="219.80" stroke="#1a1a1a" stroke-width="1.15"/><line x1="134.30" y1="223.50" x2="137.70" y2="223.50" stroke="#1a1a1a" stroke-width="1.15"/>
<path d="M73.80 230.20 L81.70 224.00 L85.00 221.20 L88.80 222.10 L91.70 223.00 L104.60 219.80 L110.40 220.80 L117.30 221.20 L123.00 223.00 L125.40 219.20 L127.70 218.80 L136.00 223.00 L145.60 218.80" fill="none" stroke="#3d4452" stroke-width="1.90" stroke-linejoin="round"/>
<circle cx="73.80" cy="230.20" r="2.3" fill="#3d4452"/>
<circle cx="81.70" cy="224.00" r="2.3" fill="#3d4452"/>
<circle cx="85.00" cy="221.20" r="2.3" fill="#3d4452"/>
<circle cx="88.80" cy="222.10" r="2.3" fill="#3d4452"/>
<circle cx="91.70" cy="223.00" r="2.3" fill="#3d4452"/>
<circle cx="104.60" cy="219.80" r="2.3" fill="#3d4452"/>
<circle cx="110.40" cy="220.80" r="2.3" fill="#3d4452"/>
<circle cx="117.30" cy="221.20" r="2.3" fill="#3d4452"/>
<circle cx="123.00" cy="223.00" r="2.3" fill="#3d4452"/>
<circle cx="125.40" cy="219.20" r="2.3" fill="#3d4452"/>
<circle cx="127.70" cy="218.80" r="2.3" fill="#3d4452"/>
<circle cx="136.00" cy="223.00" r="2.3" fill="#3d4452"/>
<circle cx="145.60" cy="218.80" r="2.3" fill="#3d4452"/>
<path d="M74.20 245.00 L82.70 238.10 L87.10 238.10 L91.00 239.20 L101.90 270.80" fill="none" stroke="#a1112f" stroke-width="1.90" stroke-linejoin="round"/>
<rect x="71.90" y="242.70" width="4.6" height="4.6" fill="#a1112f"/>
<rect x="80.40" y="235.80" width="4.6" height="4.6" fill="#a1112f"/>
<rect x="84.80" y="235.80" width="4.6" height="4.6" fill="#a1112f"/>
<rect x="88.70" y="236.90" width="4.6" height="4.6" fill="#a1112f"/>
<line x1="82.70" y1="238.10" x2="82.70" y2="246.30" stroke="#1a1a1a" stroke-width="0.95"/><line x1="81.00" y1="238.10" x2="84.40" y2="238.10" stroke="#1a1a1a" stroke-width="1.15"/><line x1="81.00" y1="246.30" x2="84.40" y2="246.30" stroke="#1a1a1a" stroke-width="1.15"/>
<line x1="91.00" y1="236.70" x2="91.00" y2="239.20" stroke="#1a1a1a" stroke-width="0.95"/><line x1="89.30" y1="236.70" x2="92.70" y2="236.70" stroke="#1a1a1a" stroke-width="1.15"/><line x1="89.30" y1="239.20" x2="92.70" y2="239.20" stroke="#1a1a1a" stroke-width="1.15"/>
<path d="M106.60 270.80 L109.60 245.00 L115.00 270.80" fill="none" stroke="#a1112f" stroke-width="1.90" stroke-linejoin="round"/>
<rect x="107.30" y="242.70" width="4.6" height="4.6" fill="#a1112f"/>
<line x1="109.60" y1="242.30" x2="109.60" y2="256.00" stroke="#a1112f" stroke-width="0.95"/><line x1="107.90" y1="242.30" x2="111.30" y2="242.30" stroke="#a1112f" stroke-width="1.15"/><line x1="107.90" y1="256.00" x2="111.30" y2="256.00" stroke="#a1112f" stroke-width="1.15"/>
<line x1="109.60" y1="242.30" x2="109.60" y2="245.00" stroke="#1a1a1a" stroke-width="0.95"/><line x1="107.90" y1="242.30" x2="111.30" y2="242.30" stroke="#1a1a1a" stroke-width="1.15"/><line x1="107.90" y1="245.00" x2="111.30" y2="245.00" stroke="#1a1a1a" stroke-width="1.15"/>
<path d="M120.60 270.80 L122.60 266.00 L124.60 254.40 L126.40 270.80" fill="none" stroke="#a1112f" stroke-width="1.90" stroke-linejoin="round"/>
<rect x="120.30" y="263.70" width="4.6" height="4.6" fill="#a1112f"/>
<rect x="122.30" y="252.10" width="4.6" height="4.6" fill="#a1112f"/>
<line x1="124.60" y1="249.20" x2="124.60" y2="254.40" stroke="#1a1a1a" stroke-width="0.95"/><line x1="122.90" y1="249.20" x2="126.30" y2="249.20" stroke="#1a1a1a" stroke-width="1.15"/><line x1="122.90" y1="254.40" x2="126.30" y2="254.40" stroke="#1a1a1a" stroke-width="1.15"/>
<line x1="122.60" y1="262.50" x2="122.60" y2="266.00" stroke="#a1112f" stroke-width="0.95"/><line x1="120.90" y1="262.50" x2="124.30" y2="262.50" stroke="#a1112f" stroke-width="1.15"/><line x1="120.90" y1="266.00" x2="124.30" y2="266.00" stroke="#a1112f" stroke-width="1.15"/>
<path d="M127.70 279.00 L136.20 279.00 L145.60 279.00" fill="none" stroke="#a1112f" stroke-width="1.90" stroke-linejoin="round"/>
<rect x="125.70" y="276.50" width="4.0" height="5.0" rx="0.8" fill="#a1112f"/>
<rect x="134.20" y="276.50" width="4.0" height="5.0" rx="0.8" fill="#a1112f"/>
<rect x="143.60" y="276.50" width="4.0" height="5.0" rx="0.8" fill="#a1112f"/>
<rect x="102.90" y="276.50" width="4.0" height="5.0" rx="0.8" fill="#a1112f"/>
<rect x="114.90" y="276.50" width="4.0" height="5.0" rx="0.8" fill="#a1112f"/>
<line x1="142.20" y1="243.40" x2="154.80" y2="243.40" stroke="#3d4452" stroke-width="1.8"/>
<circle cx="148.60" cy="243.40" r="2.3" fill="#3d4452"/>
<text x="158.00" y="246.30" font-size="8.30" textLength="13.90" lengthAdjust="spacingAndGlyphs" fill="#1e1e1e" stroke="#1e1e1e" stroke-width="0.16">total</text>
<line x1="142.20" y1="251.30" x2="154.80" y2="251.30" stroke="#a1112f" stroke-width="1.8"/>
<rect x="146.30" y="249.00" width="4.6" height="4.6" fill="#a1112f"/>
<text x="158.00" y="254.20" font-size="8.30" font-style="italic" textLength="28.90" lengthAdjust="spacingAndGlyphs" fill="#1e1e1e" stroke="#1e1e1e" stroke-width="0.16">MECOM</text>
<path d="M257.30 232.10 L263.80 223.50 L276.90 224.00 L281.70 226.30 L316.30 222.70 L326.30 225.60" fill="none" stroke="#3d4452" stroke-width="1.90" stroke-linejoin="round"/>
<circle cx="257.30" cy="232.10" r="2.3" fill="#3d4452"/>
<circle cx="263.80" cy="223.50" r="2.3" fill="#3d4452"/>
<circle cx="276.90" cy="224.00" r="2.3" fill="#3d4452"/>
<circle cx="281.70" cy="226.30" r="2.3" fill="#3d4452"/>
<circle cx="316.30" cy="222.70" r="2.3" fill="#3d4452"/>
<circle cx="326.30" cy="225.60" r="2.3" fill="#3d4452"/>
<path d="M263.80 245.80 L276.90 236.20 L281.70 237.50 L316.30 232.70 L326.30 236.50" fill="none" stroke="#a1112f" stroke-width="1.90" stroke-linejoin="round"/>
<rect x="261.50" y="243.50" width="4.6" height="4.6" fill="#a1112f"/>
<rect x="274.60" y="233.90" width="4.6" height="4.6" fill="#a1112f"/>
<rect x="279.40" y="235.20" width="4.6" height="4.6" fill="#a1112f"/>
<rect x="314.00" y="230.40" width="4.6" height="4.6" fill="#a1112f"/>
<rect x="324.00" y="234.20" width="4.6" height="4.6" fill="#a1112f"/>
<line x1="300.50" y1="256.70" x2="313.10" y2="256.70" stroke="#3d4452" stroke-width="1.8"/>
<circle cx="306.90" cy="256.70" r="2.3" fill="#3d4452"/>
<text x="316.30" y="259.60" font-size="8.30" textLength="13.90" lengthAdjust="spacingAndGlyphs" fill="#1e1e1e" stroke="#1e1e1e" stroke-width="0.16">total</text>
<line x1="300.50" y1="264.60" x2="313.10" y2="264.60" stroke="#a1112f" stroke-width="1.8"/>
<rect x="304.60" y="262.30" width="4.6" height="4.6" fill="#a1112f"/>
<text x="316.30" y="267.50" font-size="8.30" font-style="italic" textLength="28.90" lengthAdjust="spacingAndGlyphs" fill="#1e1e1e" stroke="#1e1e1e" stroke-width="0.16">MECOM</text>
<line x1="432.00" y1="237.40" x2="432.00" y2="239.30" stroke="#1a1a1a" stroke-width="0.95"/><line x1="430.30" y1="237.40" x2="433.70" y2="237.40" stroke="#1a1a1a" stroke-width="1.15"/><line x1="430.30" y1="239.30" x2="433.70" y2="239.30" stroke="#1a1a1a" stroke-width="1.15"/>
<line x1="454.20" y1="226.60" x2="454.20" y2="228.40" stroke="#1a1a1a" stroke-width="0.95"/><line x1="452.50" y1="226.60" x2="455.90" y2="226.60" stroke="#1a1a1a" stroke-width="1.15"/><line x1="452.50" y1="228.40" x2="455.90" y2="228.40" stroke="#1a1a1a" stroke-width="1.15"/>
<path d="M420.80 240.50 L424.50 235.40 L432.00 237.40 L435.50 231.70 L439.60 230.20 L442.70 223.30 L447.00 225.80 L454.20 226.60 L461.50 225.10 L468.80 222.50 L483.90 220.50" fill="none" stroke="#3d4452" stroke-width="1.90" stroke-linejoin="round"/>
<circle cx="420.80" cy="240.50" r="2.3" fill="#3d4452"/>
<circle cx="424.50" cy="235.40" r="2.3" fill="#3d4452"/>
<circle cx="432.00" cy="237.40" r="2.3" fill="#3d4452"/>
<circle cx="435.50" cy="231.70" r="2.3" fill="#3d4452"/>
<circle cx="439.60" cy="230.20" r="2.3" fill="#3d4452"/>
<circle cx="442.70" cy="223.30" r="2.3" fill="#3d4452"/>
<circle cx="447.00" cy="225.80" r="2.3" fill="#3d4452"/>
<circle cx="454.20" cy="226.60" r="2.3" fill="#3d4452"/>
<circle cx="461.50" cy="225.10" r="2.3" fill="#3d4452"/>
<circle cx="468.80" cy="222.50" r="2.3" fill="#3d4452"/>
<circle cx="483.90" cy="220.50" r="2.3" fill="#3d4452"/>
<path d="M434.60 271.00 L435.60 264.60 L437.40 271.00 L439.40 248.30 L440.40 271.00 L441.90 240.50 L446.50 242.00 L454.20 238.20 L461.90 244.60 L468.80 241.70 L483.90 231.70" fill="none" stroke="#a1112f" stroke-width="1.90" stroke-linejoin="round"/>
<rect x="433.30" y="262.30" width="4.6" height="4.6" fill="#a1112f"/>
<rect x="437.10" y="246.00" width="4.6" height="4.6" fill="#a1112f"/>
<rect x="439.60" y="238.20" width="4.6" height="4.6" fill="#a1112f"/>
<rect x="444.20" y="239.70" width="4.6" height="4.6" fill="#a1112f"/>
<rect x="451.90" y="235.90" width="4.6" height="4.6" fill="#a1112f"/>
<rect x="459.60" y="242.30" width="4.6" height="4.6" fill="#a1112f"/>
<rect x="466.50" y="239.40" width="4.6" height="4.6" fill="#a1112f"/>
<rect x="481.60" y="229.40" width="4.6" height="4.6" fill="#a1112f"/>
<line x1="435.60" y1="259.80" x2="435.60" y2="264.60" stroke="#1a1a1a" stroke-width="0.95"/><line x1="433.90" y1="259.80" x2="437.30" y2="259.80" stroke="#1a1a1a" stroke-width="1.15"/><line x1="433.90" y1="264.60" x2="437.30" y2="264.60" stroke="#1a1a1a" stroke-width="1.15"/>
<line x1="439.40" y1="242.50" x2="439.40" y2="248.30" stroke="#1a1a1a" stroke-width="0.95"/><line x1="437.70" y1="242.50" x2="441.10" y2="242.50" stroke="#1a1a1a" stroke-width="1.15"/><line x1="437.70" y1="248.30" x2="441.10" y2="248.30" stroke="#1a1a1a" stroke-width="1.15"/>
<line x1="441.90" y1="235.80" x2="441.90" y2="240.50" stroke="#1a1a1a" stroke-width="0.95"/><line x1="440.20" y1="235.80" x2="443.60" y2="235.80" stroke="#1a1a1a" stroke-width="1.15"/><line x1="440.20" y1="240.50" x2="443.60" y2="240.50" stroke="#1a1a1a" stroke-width="1.15"/>
<line x1="454.20" y1="232.50" x2="454.20" y2="238.20" stroke="#1a1a1a" stroke-width="0.95"/><line x1="452.50" y1="232.50" x2="455.90" y2="232.50" stroke="#1a1a1a" stroke-width="1.15"/><line x1="452.50" y1="238.20" x2="455.90" y2="238.20" stroke="#1a1a1a" stroke-width="1.15"/>
<line x1="483.90" y1="231.70" x2="483.90" y2="237.40" stroke="#1a1a1a" stroke-width="0.95"/><line x1="482.20" y1="231.70" x2="485.60" y2="231.70" stroke="#1a1a1a" stroke-width="1.15"/><line x1="482.20" y1="237.40" x2="485.60" y2="237.40" stroke="#1a1a1a" stroke-width="1.15"/>
<path d="M420.20 279.20 L424.00 279.20 L431.70 279.20" fill="none" stroke="#a1112f" stroke-width="1.90" stroke-linejoin="round"/>
<rect x="418.20" y="276.70" width="4.0" height="5.0" rx="0.8" fill="#a1112f"/>
<rect x="422.00" y="276.70" width="4.0" height="5.0" rx="0.8" fill="#a1112f"/>
<rect x="429.70" y="276.70" width="4.0" height="5.0" rx="0.8" fill="#a1112f"/>
<rect x="438.80" y="276.70" width="4.0" height="5.0" rx="0.8" fill="#a1112f"/>
<line x1="460.70" y1="259.20" x2="473.30" y2="259.20" stroke="#3d4452" stroke-width="1.8"/>
<circle cx="467.10" cy="259.20" r="2.3" fill="#3d4452"/>
<text x="476.50" y="262.10" font-size="8.30" textLength="13.90" lengthAdjust="spacingAndGlyphs" fill="#1e1e1e" stroke="#1e1e1e" stroke-width="0.16">total</text>
<line x1="460.70" y1="267.90" x2="473.30" y2="267.90" stroke="#a1112f" stroke-width="1.8"/>
<rect x="464.80" y="265.60" width="4.6" height="4.6" fill="#a1112f"/>
<text x="476.50" y="270.80" font-size="8.30" font-style="italic" textLength="28.90" lengthAdjust="spacingAndGlyphs" fill="#1e1e1e" stroke="#1e1e1e" stroke-width="0.16">MECOM</text>
<path d="M134.90 354.20 L145.40 349.60 L156.50 362.70 L174.50 346.80 L194.20 352.20 L204.20 349.20 L213.90 349.90" fill="none" stroke="#3d4452" stroke-width="1.90" stroke-linejoin="round"/>
<circle cx="134.90" cy="354.20" r="2.3" fill="#3d4452"/>
<circle cx="145.40" cy="349.60" r="2.3" fill="#3d4452"/>
<circle cx="156.50" cy="362.70" r="2.3" fill="#3d4452"/>
<circle cx="174.50" cy="346.80" r="2.3" fill="#3d4452"/>
<circle cx="194.20" cy="352.20" r="2.3" fill="#3d4452"/>
<circle cx="204.20" cy="349.20" r="2.3" fill="#3d4452"/>
<circle cx="213.90" cy="349.90" r="2.3" fill="#3d4452"/>
<path d="M137.70 397.50 L145.40 379.20 L153.00 397.50" fill="none" stroke="#e8b52a" stroke-width="1.70" stroke-linejoin="round"/>
<path d="M165.00 397.50 L174.50 376.50 L194.20 384.20 L204.20 378.00 L213.90 371.20" fill="none" stroke="#e8b52a" stroke-width="1.70" stroke-linejoin="round"/>
<path d="M145.40 376.40 L148.10 381.10 L142.70 381.10 Z" fill="#e8b52a"/>
<path d="M174.50 373.70 L177.20 378.40 L171.80 378.40 Z" fill="#e8b52a"/>
<path d="M194.20 381.40 L196.90 386.10 L191.50 386.10 Z" fill="#e8b52a"/>
<path d="M204.20 375.20 L206.90 379.90 L201.50 379.90 Z" fill="#e8b52a"/>
<path d="M213.90 368.40 L216.60 373.10 L211.20 373.10 Z" fill="#e8b52a"/>
<path d="M134.90 385.00 L145.40 375.40 L151.80 397.50" fill="none" stroke="#a1112f" stroke-width="1.90" stroke-linejoin="round"/>
<path d="M162.80 397.50 L174.50 377.30 L194.20 374.20 L204.20 371.90 L213.90 373.50" fill="none" stroke="#a1112f" stroke-width="1.90" stroke-linejoin="round"/>
<path d="M134.90 387.80 L137.60 383.10 L132.20 383.10 Z" fill="#a1112f"/>
<path d="M145.40 378.20 L148.10 373.50 L142.70 373.50 Z" fill="#a1112f"/>
<path d="M174.50 380.10 L177.20 375.40 L171.80 375.40 Z" fill="#a1112f"/>
<path d="M194.20 377.00 L196.90 372.30 L191.50 372.30 Z" fill="#a1112f"/>
<path d="M204.20 374.70 L206.90 370.00 L201.50 370.00 Z" fill="#a1112f"/>
<path d="M213.90 376.30 L216.60 371.60 L211.20 371.60 Z" fill="#a1112f"/>
<path d="M134.90 384.60 L145.40 371.50 L152.80 397.50" fill="none" stroke="#a1112f" stroke-width="1.90" stroke-linejoin="round"/>
<path d="M161.80 397.50 L174.50 366.50 L194.20 370.40 L204.20 367.30 L213.90 366.50" fill="none" stroke="#a1112f" stroke-width="1.90" stroke-linejoin="round"/>
<path d="M134.90 381.80 L137.60 386.50 L132.20 386.50 Z" fill="#a1112f"/>
<path d="M145.40 368.70 L148.10 373.40 L142.70 373.40 Z" fill="#a1112f"/>
<path d="M174.50 363.70 L177.20 368.40 L171.80 368.40 Z" fill="#a1112f"/>
<path d="M194.20 367.60 L196.90 372.30 L191.50 372.30 Z" fill="#a1112f"/>
<path d="M204.20 364.50 L206.90 369.20 L201.50 369.20 Z" fill="#a1112f"/>
<path d="M213.90 363.70 L216.60 368.40 L211.20 368.40 Z" fill="#a1112f"/>
<path d="M134.90 385.40 L145.40 366.90 L153.80 397.50" fill="none" stroke="#a1112f" stroke-width="1.90" stroke-linejoin="round"/>
<path d="M160.80 397.50 L174.50 364.20 L194.20 367.00 L204.20 363.50 L213.90 362.70" fill="none" stroke="#a1112f" stroke-width="1.90" stroke-linejoin="round"/>
<rect x="132.60" y="383.10" width="4.6" height="4.6" fill="#a1112f"/>
<rect x="143.10" y="364.60" width="4.6" height="4.6" fill="#a1112f"/>
<rect x="172.20" y="361.90" width="4.6" height="4.6" fill="#a1112f"/>
<rect x="191.90" y="364.70" width="4.6" height="4.6" fill="#a1112f"/>
<rect x="201.90" y="361.20" width="4.6" height="4.6" fill="#a1112f"/>
<rect x="211.60" y="360.40" width="4.6" height="4.6" fill="#a1112f"/>
<line x1="134.90" y1="380.00" x2="134.90" y2="385.40" stroke="#1a1a1a" stroke-width="0.95"/><line x1="133.20" y1="380.00" x2="136.60" y2="380.00" stroke="#1a1a1a" stroke-width="1.15"/><line x1="133.20" y1="385.40" x2="136.60" y2="385.40" stroke="#1a1a1a" stroke-width="1.15"/>
<line x1="174.50" y1="372.70" x2="174.50" y2="388.80" stroke="#1a1a1a" stroke-width="0.95"/><line x1="172.80" y1="372.70" x2="176.20" y2="372.70" stroke="#1a1a1a" stroke-width="1.15"/><line x1="172.80" y1="388.80" x2="176.20" y2="388.80" stroke="#1a1a1a" stroke-width="1.15"/>
<line x1="194.20" y1="379.60" x2="194.20" y2="382.70" stroke="#1a1a1a" stroke-width="0.95"/><line x1="192.50" y1="379.60" x2="195.90" y2="379.60" stroke="#1a1a1a" stroke-width="1.15"/><line x1="192.50" y1="382.70" x2="195.90" y2="382.70" stroke="#1a1a1a" stroke-width="1.15"/>
<line x1="204.20" y1="378.00" x2="204.20" y2="382.00" stroke="#1a1a1a" stroke-width="0.95"/><line x1="202.50" y1="378.00" x2="205.90" y2="378.00" stroke="#1a1a1a" stroke-width="1.15"/><line x1="202.50" y1="382.00" x2="205.90" y2="382.00" stroke="#1a1a1a" stroke-width="1.15"/>
<line x1="213.90" y1="375.00" x2="213.90" y2="378.00" stroke="#1a1a1a" stroke-width="0.95"/><line x1="212.20" y1="375.00" x2="215.60" y2="375.00" stroke="#1a1a1a" stroke-width="1.15"/><line x1="212.20" y1="378.00" x2="215.60" y2="378.00" stroke="#1a1a1a" stroke-width="1.15"/>
<path d="M135.40 405.60 L145.40 405.60 L157.00 405.60" fill="none" stroke="#a1112f" stroke-width="1.60" stroke-linejoin="round"/>
<path d="M135.40 408.40 L138.10 403.70 L132.70 403.70 Z" fill="#a1112f"/>
<path d="M145.40 408.40 L148.10 403.70 L142.70 403.70 Z" fill="#a1112f"/>
<path d="M157.00 408.40 L159.70 403.70 L154.30 403.70 Z" fill="#a1112f"/>
<rect x="154.70" y="403.30" width="4.6" height="4.6" fill="#a1112f"/>
<line x1="230.80" y1="355.70" x2="243.40" y2="355.70" stroke="#3d4452" stroke-width="1.8"/>
<circle cx="237.20" cy="355.70" r="2.3" fill="#3d4452"/>
<text x="246.60" y="358.60" font-size="8.30" textLength="13.90" lengthAdjust="spacingAndGlyphs" fill="#1e1e1e" stroke="#1e1e1e" stroke-width="0.16">total</text>
<line x1="230.80" y1="365.55" x2="243.40" y2="365.55" stroke="#a1112f" stroke-width="1.8"/>
<rect x="234.90" y="363.25" width="4.6" height="4.6" fill="#a1112f"/>
<text x="246.60" y="368.45" font-size="8.30" font-style="italic" textLength="28.90" lengthAdjust="spacingAndGlyphs" fill="#1e1e1e" stroke="#1e1e1e" stroke-width="0.16">MECOM</text>
<line x1="230.80" y1="375.40" x2="243.40" y2="375.40" stroke="#a1112f" stroke-width="1.8"/>
<path d="M237.20 372.60 L239.90 377.30 L234.50 377.30 Z" fill="#a1112f"/>
<text x="246.60" y="378.30" font-size="8.30" font-style="italic" textLength="28.90" lengthAdjust="spacingAndGlyphs" fill="#1e1e1e" stroke="#1e1e1e" stroke-width="0.16">MECOM</text>
<line x1="230.80" y1="385.25" x2="243.40" y2="385.25" stroke="#a1112f" stroke-width="1.8"/>
<path d="M237.20 388.05 L239.90 383.35 L234.50 383.35 Z" fill="#a1112f"/>
<text x="246.60" y="388.15" font-size="8.30" font-style="italic" textLength="28.90" lengthAdjust="spacingAndGlyphs" fill="#1e1e1e" stroke="#1e1e1e" stroke-width="0.16">MECOM</text>
<line x1="230.80" y1="395.10" x2="243.40" y2="395.10" stroke="#e8b52a" stroke-width="1.8"/>
<path d="M237.20 392.30 L239.90 397.00 L234.50 397.00 Z" fill="#e8b52a"/>
<text x="246.60" y="398.00" font-size="8.30" font-style="italic" textLength="20.50" lengthAdjust="spacingAndGlyphs" fill="#1e1e1e" stroke="#1e1e1e" stroke-width="0.16">LMO2</text>
<path d="M352.50 368.50 L357.30 358.50 L360.80 353.50 L366.00 370.80 L370.40 355.40 L380.40 348.30 L390.40 350.80 L400.20 345.00 L409.60 350.20 L419.80 348.80" fill="none" stroke="#3d4452" stroke-width="1.90" stroke-linejoin="round"/>
<circle cx="352.50" cy="368.50" r="2.3" fill="#3d4452"/>
<circle cx="357.30" cy="358.50" r="2.3" fill="#3d4452"/>
<circle cx="360.80" cy="353.50" r="2.3" fill="#3d4452"/>
<circle cx="366.00" cy="370.80" r="2.3" fill="#3d4452"/>
<circle cx="370.40" cy="355.40" r="2.3" fill="#3d4452"/>
<circle cx="380.40" cy="348.30" r="2.3" fill="#3d4452"/>
<circle cx="390.40" cy="350.80" r="2.3" fill="#3d4452"/>
<circle cx="400.20" cy="345.00" r="2.3" fill="#3d4452"/>
<circle cx="409.60" cy="350.20" r="2.3" fill="#3d4452"/>
<circle cx="419.80" cy="348.80" r="2.3" fill="#3d4452"/>
<path d="M354.00 397.50 L357.30 374.20 L360.80 370.60 L365.20 397.50" fill="none" stroke="#a1112f" stroke-width="1.90" stroke-linejoin="round"/>
<path d="M368.80 397.50 L370.40 375.80 L380.40 366.20 L390.40 363.00 L400.20 360.80 L409.60 362.30 L419.80 359.20" fill="none" stroke="#a1112f" stroke-width="1.90" stroke-linejoin="round"/>
<rect x="355.00" y="371.90" width="4.6" height="4.6" fill="#a1112f"/>
<rect x="358.50" y="368.30" width="4.6" height="4.6" fill="#a1112f"/>
<rect x="368.10" y="373.50" width="4.6" height="4.6" fill="#a1112f"/>
<rect x="378.10" y="363.90" width="4.6" height="4.6" fill="#a1112f"/>
<rect x="388.10" y="360.70" width="4.6" height="4.6" fill="#a1112f"/>
<rect x="397.90" y="358.50" width="4.6" height="4.6" fill="#a1112f"/>
<rect x="407.30" y="360.00" width="4.6" height="4.6" fill="#a1112f"/>
<rect x="417.50" y="356.90" width="4.6" height="4.6" fill="#a1112f"/>
<line x1="357.30" y1="374.20" x2="357.30" y2="385.80" stroke="#1a1a1a" stroke-width="0.95"/><line x1="355.60" y1="374.20" x2="359.00" y2="374.20" stroke="#1a1a1a" stroke-width="1.15"/><line x1="355.60" y1="385.80" x2="359.00" y2="385.80" stroke="#1a1a1a" stroke-width="1.15"/>
<line x1="360.80" y1="367.50" x2="360.80" y2="370.60" stroke="#1a1a1a" stroke-width="0.95"/><line x1="359.10" y1="367.50" x2="362.50" y2="367.50" stroke="#1a1a1a" stroke-width="1.15"/><line x1="359.10" y1="370.60" x2="362.50" y2="370.60" stroke="#1a1a1a" stroke-width="1.15"/>
<line x1="370.40" y1="371.50" x2="370.40" y2="375.80" stroke="#1a1a1a" stroke-width="0.95"/><line x1="368.70" y1="371.50" x2="372.10" y2="371.50" stroke="#1a1a1a" stroke-width="1.15"/><line x1="368.70" y1="375.80" x2="372.10" y2="375.80" stroke="#1a1a1a" stroke-width="1.15"/>
<line x1="380.40" y1="363.50" x2="380.40" y2="368.50" stroke="#1a1a1a" stroke-width="0.95"/><line x1="378.70" y1="363.50" x2="382.10" y2="363.50" stroke="#1a1a1a" stroke-width="1.15"/><line x1="378.70" y1="368.50" x2="382.10" y2="368.50" stroke="#1a1a1a" stroke-width="1.15"/>
<line x1="390.40" y1="361.00" x2="390.40" y2="366.00" stroke="#1a1a1a" stroke-width="0.95"/><line x1="388.70" y1="361.00" x2="392.10" y2="361.00" stroke="#1a1a1a" stroke-width="1.15"/><line x1="388.70" y1="366.00" x2="392.10" y2="366.00" stroke="#1a1a1a" stroke-width="1.15"/>
<rect x="351.00" y="403.10" width="4.0" height="5.0" rx="0.8" fill="#a1112f"/>
<rect x="364.50" y="403.10" width="4.0" height="5.0" rx="0.8" fill="#a1112f"/>
<line x1="393.80" y1="383.60" x2="406.40" y2="383.60" stroke="#3d4452" stroke-width="1.8"/>
<circle cx="400.20" cy="383.60" r="2.3" fill="#3d4452"/>
<text x="409.60" y="386.50" font-size="8.30" textLength="13.90" lengthAdjust="spacingAndGlyphs" fill="#1e1e1e" stroke="#1e1e1e" stroke-width="0.16">total</text>
<line x1="393.80" y1="391.80" x2="406.40" y2="391.80" stroke="#a1112f" stroke-width="1.8"/>
<rect x="397.90" y="389.50" width="4.6" height="4.6" fill="#a1112f"/>
<text x="409.60" y="394.70" font-size="8.30" font-style="italic" textLength="28.90" lengthAdjust="spacingAndGlyphs" fill="#1e1e1e" stroke="#1e1e1e" stroke-width="0.16">MECOM</text>
<rect x="0" y="1" width="520" height="1" fill="#9c9c9c"/>
<rect x="1" y="0" width="1" height="445" fill="#8c8c8c"/>
<rect x="518" y="0" width="1" height="445" fill="#5a5a5a"/>
<rect x="0" y="443" width="520" height="1" fill="#646464"/>
<rect x="0" y="0" width="520" height="1" fill="#000"/>
<rect x="0" y="0" width="1" height="445" fill="#000"/>
<rect x="519" y="0" width="1" height="445" fill="#000"/>
<rect x="0" y="444" width="520" height="1" fill="#000"/>
</svg></body></html>
